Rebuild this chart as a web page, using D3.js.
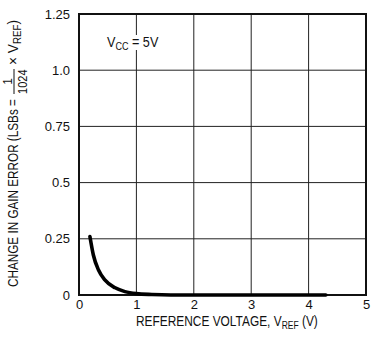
<!DOCTYPE html>
<html><head><meta charset="utf-8">
<script src="https://cdn.jsdelivr.net/npm/d3@7"></script>
<style>
html,body{margin:0;padding:0;background:#fff;}
text{font-family:"Liberation Sans","Arial",sans-serif;fill:#111;}
</style></head><body>
<svg id="c" width="380" height="341"></svg>
<script>
const xTicks = [0, 1, 2, 3, 4, 5];
const yTicks = [0, 0.25, 0.5, 0.75, 1.0, 1.25];
const yTickLabels = ["0", "0.25", "0.5", "0.75", "1.0", "1.25"];
const vref = [0.19, 0.25, 0.34, 0.45, 0.63, 0.80, 1.0, 1.27, 1.6, 2.0, 3.0, 4.0, 4.3];
const gainErr = [0.26, 0.178, 0.111, 0.067, 0.032, 0.015, 0.006, 0.002, 0.0, 0.0, 0.0, 0.0, 0.0];

const svg = d3.select("#c");
const L = 79, R = 366, T = 14, B = 295;
const x = d3.scaleLinear().domain([0, 5]).range([L, R]);
const y = d3.scaleLinear().domain([0, 1.25]).range([B, T]);

// helper: condensed text group scaled horizontally to a target width
function condensed(parent, tx, ty, targetW, build) {
  const g = parent.append("g");
  const t = g.append("text").attr("x", 0).attr("y", 0);
  build(t);
  const w = t.node().getBBox().width;
  g.attr("transform", `translate(${tx},${ty}) scale(${targetW / w},1)`);
  return g;
}

// grid
svg.append("g").selectAll("line").data(xTicks.slice(1, -1)).join("line")
  .attr("x1", d => x(d)).attr("x2", d => x(d)).attr("y1", T).attr("y2", B)
  .attr("stroke", "#222").attr("stroke-width", 1);
svg.append("g").selectAll("line").data(yTicks.slice(1, -1)).join("line")
  .attr("x1", L).attr("x2", R).attr("y1", d => y(d)).attr("y2", d => y(d))
  .attr("stroke", "#222").attr("stroke-width", 1);

// Vcc label with white background
svg.append("rect").attr("x", 104).attr("y", 35).attr("width", 58).attr("height", 15).attr("fill", "#fff");
condensed(svg, 107, 47, 52, t => {
  t.attr("font-size", 14);
  t.append("tspan").text("V");
  t.append("tspan").attr("font-size", 10).attr("dy", 3).text("CC");
  t.append("tspan").attr("dy", -3).text(" = 5V");
});

// frame
svg.append("rect").attr("x", L).attr("y", T).attr("width", R - L).attr("height", B - T)
  .attr("fill", "none").attr("stroke", "#111").attr("stroke-width", 2);

// curve
const line = d3.line().x((d, i) => x(vref[i])).y((d, i) => y(gainErr[i])).curve(d3.curveMonotoneX);
svg.append("path").attr("d", line(vref)).attr("fill", "none").attr("stroke", "#000")
  .attr("stroke-width", 3.6).attr("stroke-linecap", "round");

// axes labels via d3 axes
const xAxis = d3.axisBottom(x).tickValues(xTicks).tickSize(0).tickPadding(5).tickFormat(d3.format("d"));
const gx = svg.append("g").attr("transform", `translate(0,${B})`).call(xAxis);
gx.select(".domain").remove();
gx.selectAll("text").attr("font-size", 13).attr("fill", "#111").style("font-family", "'Liberation Sans',Arial,sans-serif");

const yAxis = d3.axisLeft(y).tickValues(yTicks).tickSize(0).tickPadding(9).tickFormat((d, i) => yTickLabels[i]);
const gy = svg.append("g").attr("transform", `translate(${L},0)`).call(yAxis);
gy.select(".domain").remove();
gy.selectAll("text").attr("font-size", 13).attr("fill", "#111").style("font-family", "'Liberation Sans',Arial,sans-serif");

// x title
condensed(svg, 136, 326, 182, t => {
  t.attr("font-size", 14);
  t.append("tspan").text("REFERENCE VOLTAGE, V");
  t.append("tspan").attr("font-size", 10).attr("dy", 3).text("REF");
  t.append("tspan").attr("dy", -3).text(" (V)");
});

// y title (rotated, with fraction)
const yg = svg.append("g").attr("transform", "translate(18,287) rotate(-90)");
condensed(yg, 0, 0, 188, t => {
  t.attr("font-size", 14).text("CHANGE IN GAIN ERROR (LSBs =");
});
const fx = 193, fw = 25;
yg.append("text").attr("x", fx + fw / 2).attr("y", -6).attr("font-size", 12).attr("text-anchor", "middle").text("1");
condensed(yg, fx, 9, fw, t => { t.attr("font-size", 12).text("1024"); });
yg.append("line").attr("x1", fx).attr("x2", fx + fw).attr("y1", -4).attr("y2", -4).attr("stroke", "#111").attr("stroke-width", 1);
condensed(yg, fx + fw + 4, 0, 45, t => {
  t.attr("font-size", 14);
  t.append("tspan").text("× V");
  t.append("tspan").attr("font-size", 10).attr("dy", 3).text("REF");
  t.append("tspan").attr("dy", -3).text(")");
});
</script>
</body></html>
